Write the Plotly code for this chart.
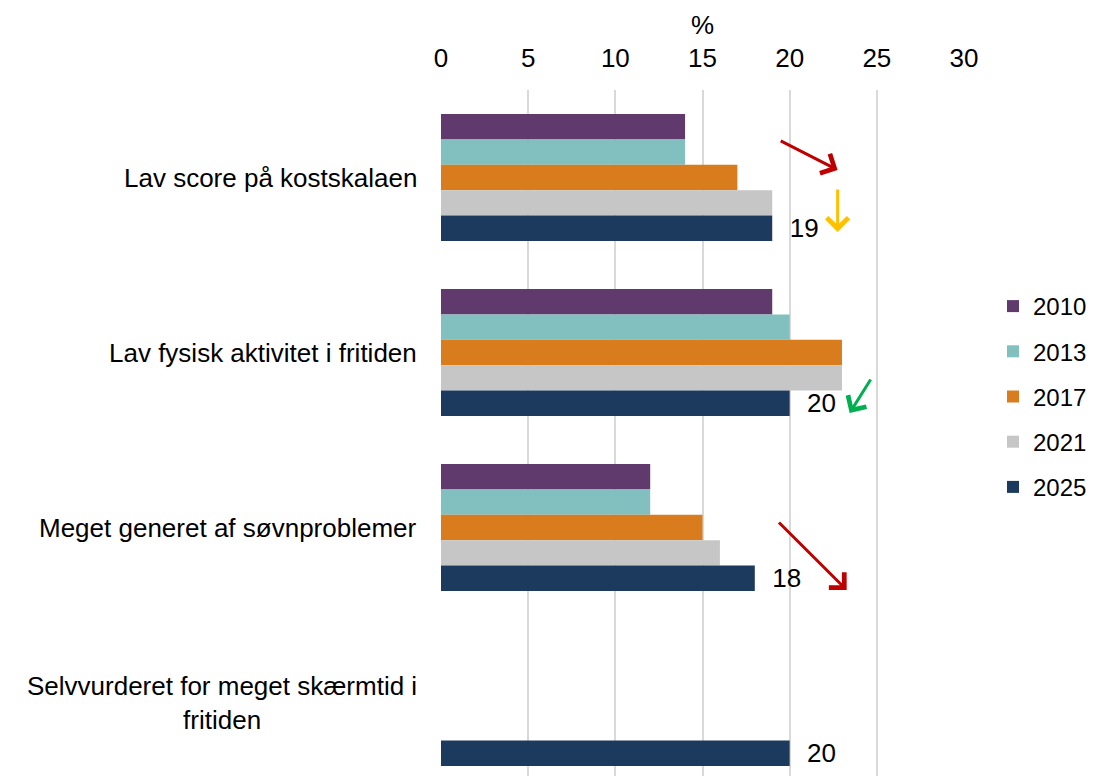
import plotly.graph_objects as go

categories = ["Lav score på kostskalaen",
              "Lav fysisk aktivitet i fritiden",
              "Meget generet af søvnproblemer",
              "Selvvurderet for meget skærmtid i<br>fritiden"]
years = ["2010", "2013", "2017", "2021", "2025"]
v2010 = [14, 19, 12, None]
v2013 = [14, 20, 12, None]
v2017 = [17, 23, 15, None]
v2021 = [19, 23, 16, None]
v2025 = [19, 20, 18, 20]
values = [v2010, v2013, v2017, v2021, v2025]
colors = ["#603A6C", "#82C0C0", "#D87C1E", "#C6C6C6", "#1B3A5E"]

FONT = "Liberation Sans, Arial, sans-serif"
FS = 26
ypos = list(range(len(categories)))

fig = go.Figure()
for yr, vals, col in zip(years, values, colors):
    show_txt = yr == "2025"
    fig.add_trace(go.Bar(
        y=ypos, x=vals, name=yr, orientation="h",
        marker=dict(color=col, line=dict(width=0)),
        legendgroup=yr,
        text=["\u00a0\u00a0" + str(v) if (show_txt and v is not None) else "" for v in vals],
        textposition="outside", cliponaxis=False, constraintext="none",
        textfont=dict(size=FS, color="black", family=FONT),
        hoverinfo="x+name",
    ))

# category labels (centred multi-line text like the original)
for i, cat in enumerate(categories):
    fig.add_annotation(x=0, xref="paper", y=i, yref="y", text=cat,
                       showarrow=False, xanchor="right", align="center",
                       xshift=-22, font=dict(size=FS, family=FONT, color="black"))

# trend arrows
arrows = [
    # (tail x, tail y, head x, head y, colour)
    (19.4, -0.214, 22.75, -0.043, "#C00000"),
    (22.75, 0.06, 22.75, 0.311, "#FFC000"),
    (24.7, 1.146, 23.44, 1.346, "#00B050"),
    (19.3, 1.963, 23.27, 2.357, "#C00000"),
]
for ax_, ay_, hx, hy, col in arrows:
    fig.add_annotation(x=hx, y=hy, ax=ax_, ay=ay_, xref="x", yref="y",
                       axref="x", ayref="y", text="", showarrow=True,
                       arrowhead=4, arrowsize=1.4, arrowwidth=3,
                       arrowcolor=col)

# page body has an 8px margin on every side, so keep the figure inside it
W, H = 1088, 768
fig.update_layout(
    width=W, height=H,
    barmode="group", bargap=0.274, bargroupgap=0,
    plot_bgcolor="white", paper_bgcolor="white",
    font=dict(family=FONT, size=FS, color="black"),
    margin=dict(l=433, r=132, t=82, b=0, autoexpand=False),
    legend=dict(xref="container", yref="container", x=985 / W,
                xanchor="left", y=1 - 388.5 / H, yanchor="middle",
                font=dict(size=24), tracegroupgap=11, traceorder="grouped",
                itemwidth=30),
    showlegend=True,
)
fig.update_xaxes(side="top", range=[0, 30], dtick=5, showgrid=True,
                 gridcolor="#D9D9D9", gridwidth=1.5, zeroline=False,
                 showline=False, ticks="", ticklabelstandoff=17,
                 tickfont=dict(size=FS), automargin=False,
                 title=dict(text="%", font=dict(size=FS), standoff=0))
fig.update_yaxes(range=[3.42, -0.5], showticklabels=False, showgrid=False,
                 zeroline=False, showline=False, ticks="", automargin=False)

fig.write_html("out.html")
